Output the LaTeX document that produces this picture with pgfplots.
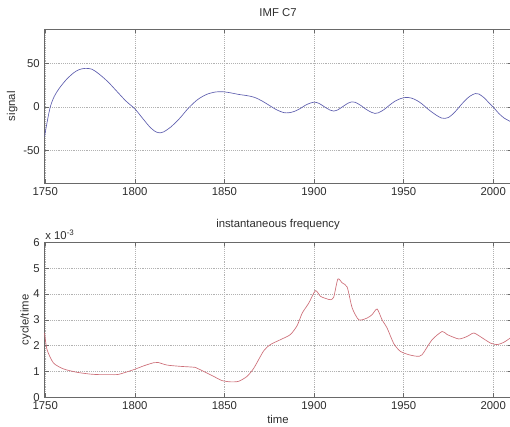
\documentclass[border=0pt]{standalone}
\usepackage{pgfplots}
\pgfplotsset{compat=1.18}
\usepackage{fontspec}
\setmainfont{Liberation Sans}
\definecolor{sigblue}{RGB}{95,95,175}
\definecolor{freqred}{RGB}{205,110,120}
\definecolor{axgray}{RGB}{105,105,105}
\definecolor{txtgray}{RGB}{45,45,45}
\pgfplotsset{
  myax/.style={
    scale only axis,
    width=350.25pt,
    anchor=south west,
    xmin=1749.6, xmax=2010.2,
    xtick={1750,1800,1850,1900,1950,2000},
    xticklabels={1750,1800,1850,1900,1950,2000},
    grid=major,
    major grid style={densely dotted, gray!60, line width=0.4pt},
    axis line style={axgray, line width=0.5pt},
    tick style={axgray, line width=0.4pt},
    tick align=inside,
    major tick length=3pt,
    every tick label/.append style={font=\fontsize{8.5}{10}\selectfont, text=txtgray},
    label style={font=\fontsize{8.5}{10}\selectfont, text=txtgray},
    title style={font=\fontsize{8.5}{10}\selectfont, text=txtgray},
    /pgf/number format/assume math mode=true,
    clip=true,
  }
}
\begin{document}
\begin{tikzpicture}
\useasboundingbox (0,0) rectangle (382.5pt,319.5pt);
\begin{axis}[myax,
  at={(33.375pt,182pt)}, height=115.7pt,
  ymin=-87.5, ymax=89.5,
  ytick={-50,0,50}, yticklabels={-50,0,50},
  title={IMF C7}, ylabel={signal}, ylabel shift=-2.5pt]
\addplot[sigblue, line width=0.5pt, smooth, tension=0.5] coordinates {
(1749.6,-34) (1751,-18) (1752.8,0) (1755,12) (1758,22) (1762,32) (1766,39.5) (1769,43) (1772.3,44.4)
(1776,43.5) (1780,38) (1785,29) (1790,18) (1795,7) (1800,-2) (1804,-12) (1808,-22) (1811,-27.5)
(1813.5,-29.5) (1816,-28.5) (1820,-23) (1825,-13) (1830,-1) (1835,8.5) (1840,14.5) (1845,17.3)
(1849,17.6) (1853,16.5) (1858,14.5) (1863,13) (1867,11) (1871,7) (1875,2) (1879,-3) (1883,-6.3)
(1886,-6.5) (1889,-5) (1892,-2) (1896,3) (1900,5.7) (1903,4) (1906,0) (1909,-3.5) (1911,-4.6)
(1913,-3.5) (1916,0.5) (1919,4.5) (1921,6) (1923,5.5) (1926,2) (1929,-2.5) (1932,-6) (1934,-7.3)
(1936,-6.5) (1939,-3) (1942,2) (1945,6.5) (1948,9.5) (1951,11) (1954,10.5) (1957,8) (1960,4)
(1964,-3) (1968,-9) (1971,-12.5) (1973,-13) (1975,-12) (1978,-7) (1981,0) (1984,7) (1987,12.5)
(1990,15.5) (1992,15) (1995,10.5) (1998,4) (2000,0) (2003,-7) (2006,-12.5) (2010,-17)
};
\end{axis}
\begin{axis}[myax,
  at={(33.375pt,21.5pt)}, height=116.25pt,
  ymin=0, ymax=6,
  ytick={0,1,2,3,4,5,6}, yticklabels={0,1,2,3,4,5,6},
  title={instantaneous frequency}, ylabel={cycle/time}, xlabel={time},
  ylabel shift=-5pt, xlabel shift=-3pt]
\addplot[freqred, line width=0.5pt, smooth, tension=0.4] coordinates {
(1749.6,2.5) (1751,1.85) (1754.6,1.33) (1760.2,1.1) (1767.7,0.97) (1775.1,0.9) (1780,0.88)
(1786,0.88) (1791,0.89) (1799.3,1.07) (1805,1.22) (1810.5,1.34) (1813,1.35) (1817.9,1.25)
(1825.3,1.2) (1833.7,1.16) (1836.5,1.07) (1844,0.81) (1848.6,0.65) (1853.3,0.6) (1857.9,0.62)
(1862.6,0.81) (1866.4,1.13) (1871.9,1.8) (1875.6,2.04) (1881.2,2.23) (1886.8,2.43) (1890.6,2.78)
(1893.4,3.26) (1897.1,3.65) (1900.8,4.13) (1903.6,3.91) (1907.3,3.81) (1909.2,3.78) (1911,3.88)
(1913.3,4.58) (1915.7,4.43) (1918.5,4.27) (1921.3,3.46) (1925,3.0) (1929.6,3.07) (1932.4,3.2)
(1935.2,3.42) (1938,3.0) (1940.8,2.68) (1944.5,2.08) (1948.2,1.78) (1952.9,1.65) (1957.5,1.59)
(1960.3,1.65) (1965.9,2.23) (1971.5,2.55) (1974.3,2.43) (1980.8,2.26) (1985.5,2.36) (1989.2,2.49)
(1993.9,2.3) (1998.5,2.1) (2002.2,2.04) (2005.9,2.13) (2010,2.32)
};
\end{axis}
\node[anchor=south west, inner sep=0pt, font=\fontsize{8.5}{10}\selectfont, text=txtgray] at (33.8pt,139.5pt) {x 10\textsuperscript{-3}};
\end{tikzpicture}
\end{document}
